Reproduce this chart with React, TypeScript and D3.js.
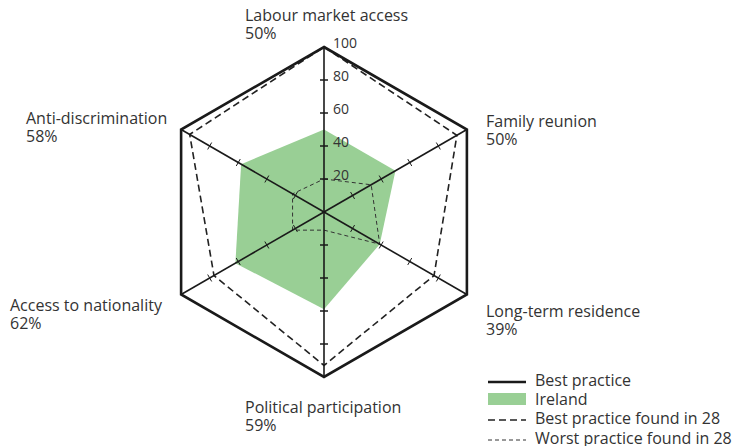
import React from "react";
import * as d3 from "d3";

const axes = [
  "Labour market access",
  "Family reunion",
  "Long-term residence",
  "Political participation",
  "Access to nationality",
  "Anti-discrimination",
];
const irelandValues = [50, 50, 39, 59, 62, 58];
const bestPractice = [100, 100, 100, 100, 100, 100];
const bestFound28 = [100, 93, 77, 93, 77, 94];
const worstFound28 = [20, 33, 39, 11, 22, 22];
const tickValues = [20, 40, 60, 80];
const tickLabels = ["20", "40", "60", "80", "100"];
const legendItems = [
  "Best practice",
  "Ireland",
  "Best practice found in 28",
  "Worst practice found in 28",
];

const W = 743;
const H = 446;
const cx = 324;
const cy = 212;
const FONT = "'Open Sans', 'Noto Sans', sans-serif";

const labelPos: [number, number][] = [
  [245, 21],
  [486, 127],
  [486, 317],
  [245, 413],
  [10, 311],
  [26, 124],
];

export default function App() {
  const r = d3.scaleLinear().domain([0, 100]).range([0, 165]);
  const ang = (i: number) => (i * Math.PI) / 3;
  const pt = (i: number, v: number): [number, number] => [
    cx + r(v) * Math.sin(ang(i)),
    cy - r(v) * Math.cos(ang(i)),
  ];
  const radial = (vals: number[]) =>
    d3
      .lineRadial<number>()
      .angle((_, i) => ang(i))
      .radius((d) => r(d))
      .curve(d3.curveLinearClosed)(vals) || "";

  return (
    <svg width={W} height={H} style={{ position: "absolute", left: 0, top: 0 }}>
      <rect width={W} height={H} fill="#fff" />
      <g transform={`translate(${cx},${cy})`}>
        <path d={radial(irelandValues)} fill="#99cf95" stroke="none" />
        <path
          d={radial(worstFound28)}
          fill="none"
          stroke="#333"
          strokeWidth={1}
          strokeDasharray="4,3"
        />
        <path
          d={radial(bestFound28)}
          fill="none"
          stroke="#222"
          strokeWidth={1.6}
          strokeDasharray="7,4"
        />
      </g>
      {axes.map((a, i) => {
        const [x2, y2] = pt(i, 100);
        return (
          <line key={a} x1={cx} y1={cy} x2={x2} y2={y2} stroke="#1a1a1a" strokeWidth={1.6} />
        );
      })}
      {axes.map((a, i) =>
        tickValues.map((t) => {
          const [x, y] = pt(i, t);
          const th = ang(i);
          const dx = Math.cos(th) * 4;
          const dy = Math.sin(th) * 4;
          return (
            <line
              key={a + t}
              x1={x - dx}
              y1={y - dy}
              x2={x + dx}
              y2={y + dy}
              stroke="#1a1a1a"
              strokeWidth={i === 0 || i === 3 ? 1.5 : 1}
            />
          );
        })
      )}
      <g transform={`translate(${cx},${cy})`}>
        <path d={radial(bestPractice)} fill="none" stroke="#1a1a1a" strokeWidth={2.6} />
      </g>
      {tickLabels.map((t, k) => {
        const v = (k + 1) * 20;
        return (
          <text
            key={t}
            x={cx + 9}
            y={cy - r(v) + 1}
            fontFamily={FONT}
            fontSize={14}
            fill="#333"
          >
            {t}
          </text>
        );
      })}
      {axes.map((a, i) => (
        <g key={a}>
          <text x={labelPos[i][0]} y={labelPos[i][1]} fontFamily={FONT} fontSize={16} fill="#333">
            {a}
          </text>
          <text x={labelPos[i][0]} y={labelPos[i][1] + 18} fontFamily={FONT} fontSize={16} fill="#333">
            {irelandValues[i]}%
          </text>
        </g>
      ))}
      <g>
        <line x1={488} x2={526} y1={382} y2={382} stroke="#1a1a1a" strokeWidth={2.6} />
        <rect x={488} y={393} width={38} height={12} fill="#99cf95" />
        <line x1={488} x2={526} y1={420} y2={420} stroke="#222" strokeWidth={1.6} strokeDasharray="7,4" />
        <line x1={488} x2={526} y1={440} y2={440} stroke="#333" strokeWidth={1} strokeDasharray="4,3" />
        {legendItems.map((l, k) => (
          <text key={l} x={535} y={386 + k * 19.2} fontFamily={FONT} fontSize={16} fill="#333">
            {l}
          </text>
        ))}
      </g>
    </svg>
  );
}
